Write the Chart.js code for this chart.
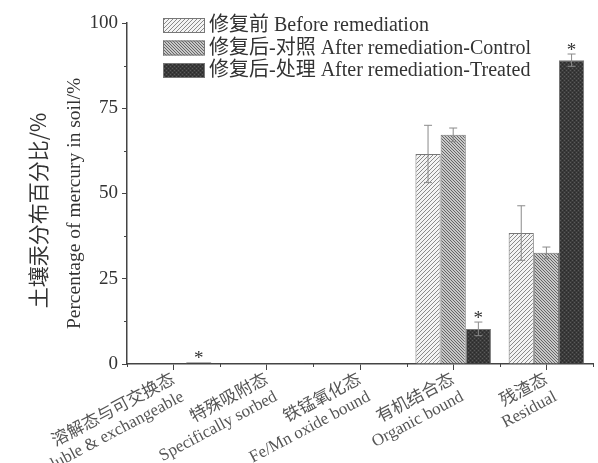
<!DOCTYPE html>
<html>
<head>
<meta charset="utf-8">
<script src="https://cdn.jsdelivr.net/npm/chart.js@4"></script>
<style>
  html, body { margin: 0; padding: 0; background: #fff; }
  #wrap { width: 598px; height: 463px; }
</style>
</head>
<body>
<div id="wrap"><canvas id="chart" width="598" height="463"></canvas></div>
<script>
// Data
const categories = [
    ['溶解态与可交换态', 'Soluble & exchangeable'],
    ['特殊吸附态', 'Specifically sorbed'],
    ['铁锰氧化态', 'Fe/Mn oxide bound'],
    ['有机结合态', 'Organic bound'],
    ['残渣态', 'Residual']
];
const seriesNames = [
    '修复前 Before remediation',
    '修复后-对照 After remediation-Control',
    '修复后-处理 After remediation-Treated'
];
const beforeValues = [0, 0.1, 0, 61.6, 38.4];
const controlValues = [0, 0.1, 0, 67.2, 32.6];
const treatedValues = [0.5, 0.1, 0, 10.3, 89.1];
const beforeErrors = [0, 0, 0, 8.4, 8.0];
const controlErrors = [0, 0, 0, 2.0, 1.7];
const treatedErrors = [0, 0, 0, 2.0, 1.8];
const treatedStars = [true, false, false, true, true];
const yTicks = [0, 25, 50, 75, 100];

const SERIF = '"Liberation Serif", "Noto Sans CJK SC", serif';
const INK = '#333';

// Fill patterns
const makePattern = (bg, fg, dir, gap, width) => {
    const c = document.createElement('canvas');
    c.width = gap; c.height = gap;
    const g = c.getContext('2d');
    g.fillStyle = bg;
    g.fillRect(0, 0, gap, gap);
    g.strokeStyle = fg;
    g.lineWidth = width;
    g.beginPath();
    for (let k = -1; k <= 1; k++) {
        if (dir > 0) {
            g.moveTo(k * gap, gap); g.lineTo(k * gap + gap, 0);
        } else {
            g.moveTo(k * gap, 0); g.lineTo(k * gap + gap, gap);
        }
    }
    g.stroke();
    return g.createPattern(c, 'repeat');
};
const makeSpeckle = () => {
    const c = document.createElement('canvas');
    c.width = 4; c.height = 4;
    const g = c.getContext('2d');
    g.fillStyle = '#3a3a3a';
    g.fillRect(0, 0, 4, 4);
    g.fillStyle = '#5a5a5a';
    g.fillRect(0, 0, 1, 1);
    g.fillRect(2, 2, 1, 1);
    g.fillStyle = '#2a2a2a';
    g.fillRect(2, 0, 1, 1);
    g.fillRect(0, 2, 1, 1);
    return g.createPattern(c, 'repeat');
};

const fills = [
    makePattern('#f4f4f4', '#8a8a8a', 1, 4, 1),
    makePattern('#c8c8c8', '#666', -1, 3, 1),
    makeSpeckle()
];
const errors = [beforeErrors, controlErrors, treatedErrors];

// Error bars, stars, minor ticks, y title and legend
const extras = {
    id: 'extras',
    afterDatasetsDraw(chart) {
        const ctx = chart.ctx;
        const y = chart.scales.y;
        ctx.save();
        chart.data.datasets.forEach((ds, i) => {
            const meta = chart.getDatasetMeta(i);
            meta.data.forEach((bar, j) => {
                const e = errors[i][j];
                const v = ds.data[j];
                let top = y.getPixelForValue(v);
                if (e > 0) {
                    const yt = y.getPixelForValue(v + e);
                    const yb = y.getPixelForValue(v - e);
                    ctx.strokeStyle = '#8a8a8a';
                    ctx.lineWidth = 1;
                    ctx.beginPath();
                    ctx.moveTo(bar.x, yt); ctx.lineTo(bar.x, yb);
                    ctx.moveTo(bar.x - 4, yt); ctx.lineTo(bar.x + 4, yt);
                    ctx.moveTo(bar.x - 4, yb); ctx.lineTo(bar.x + 4, yb);
                    ctx.stroke();
                    top = yt;
                }
                if (i === 2 && treatedStars[j]) {
                    ctx.fillStyle = INK;
                    ctx.font = '19px ' + SERIF;
                    ctx.textAlign = 'center';
                    ctx.textBaseline = 'alphabetic';
                    ctx.fillText('*', bar.x, top + 2);
                }
            });
        });
        ctx.restore();
    },
    afterDraw(chart) {
        const ctx = chart.ctx;
        const x = chart.scales.x;
        const y = chart.scales.y;
        const area = chart.chartArea;
        ctx.save();
        ctx.strokeStyle = '#444';
        ctx.lineWidth = 1;
        ctx.beginPath();
        // minor y ticks
        for (let k = 0; k < yTicks.length - 1; k++) {
            const py = Math.round(y.getPixelForValue((yTicks[k] + yTicks[k + 1]) / 2)) + 0.5;
            ctx.moveTo(area.left - 3, py); ctx.lineTo(area.left, py);
        }
        // minor x ticks at category boundaries
        const n = categories.length;
        for (let k = 0; k <= n; k++) {
            const px = Math.round(x.getPixelForValue(k - 0.5)) + 0.5;
            ctx.moveTo(px, area.bottom); ctx.lineTo(px, area.bottom + 3);
        }
        ctx.stroke();

        // y axis titles
        const cy = (area.top + area.bottom) / 2;
        ctx.fillStyle = INK;
        ctx.textAlign = 'center';
        ctx.textBaseline = 'middle';
        ctx.translate(38, cy + 17);
        ctx.rotate(-Math.PI / 2);
        ctx.font = '21px "Noto Sans CJK SC", ' + SERIF;
        ctx.fillText('土壤汞分布百分比/%', 0, 0);
        ctx.setTransform(1, 0, 0, 1, 0, 0);
        ctx.translate(75, cy + 10);
        ctx.rotate(-Math.PI / 2);
        ctx.font = '19.5px ' + SERIF;
        ctx.fillText('Percentage of mercury in soil/%', 0, 0);
        ctx.setTransform(1, 0, 0, 1, 0, 0);

        // legend
        ctx.textAlign = 'left';
        ctx.font = '20px ' + SERIF;
        chart.data.datasets.forEach((ds, i) => {
            const ly = area.top + 2 + i * 22.5;
            ctx.fillStyle = ds.backgroundColor;
            ctx.fillRect(163, ly - 7, 42, 15);
            ctx.strokeStyle = '#777';
            ctx.strokeRect(163.5, ly - 6.5, 41, 14);
            ctx.fillStyle = INK;
            ctx.fillText(ds.label, 209, ly + 1);
        });
        ctx.restore();
    }
};

const makeDataset = (label, data, k) => ({
    label: label,
    data: data,
    backgroundColor: fills[k],
    borderColor: '#777',
    borderWidth: 1,
    borderSkipped: 'bottom'
});

new Chart(document.getElementById('chart').getContext('2d'), {
    type: 'bar',
    data: {
        labels: categories,
        datasets: [
            makeDataset(seriesNames[0], beforeValues, 0),
            makeDataset(seriesNames[1], controlValues, 1),
            makeDataset(seriesNames[2], treatedValues, 2)
        ]
    },
    options: {
        responsive: false,
        animation: false,
        maintainAspectRatio: false,
        layout: { padding: { top: 23, right: 5, left: 0, bottom: 0 } },
        datasets: { bar: { categoryPercentage: 0.81, barPercentage: 1 } },
        plugins: {
            legend: { display: false },
            tooltip: { enabled: false }
        },
        scales: {
            x: {
                grid: { offset: false, drawOnChartArea: false, drawTicks: true, tickLength: 6, color: '#444' },
                border: { display: true, color: '#444', width: 1.5 },
                ticks: {
                    color: '#555',
                    font: { family: SERIF, size: 17, lineHeight: 1.15 },
                    minRotation: 28,
                    maxRotation: 28,
                    autoSkip: false,
                    padding: 0
                },
                afterFit: (scale) => {
                    scale.height = 99;
                    scale.paddingLeft = 0;
                    scale.paddingRight = 0;
                }
            },
            y: {
                min: 0,
                max: 100,
                grid: { drawOnChartArea: false, drawTicks: true, tickLength: 5, color: '#444' },
                border: { display: true, color: '#444', width: 1.5 },
                ticks: {
                    stepSize: 25,
                    color: INK,
                    font: { family: SERIF, size: 19 },
                    padding: 4
                },
                afterFit: (scale) => {
                    scale.width = 127;
                    scale.paddingTop = 0;
                    scale.paddingBottom = 0;
                }
            }
        }
    },
    plugins: [extras]
});
</script>
</body>
</html>
